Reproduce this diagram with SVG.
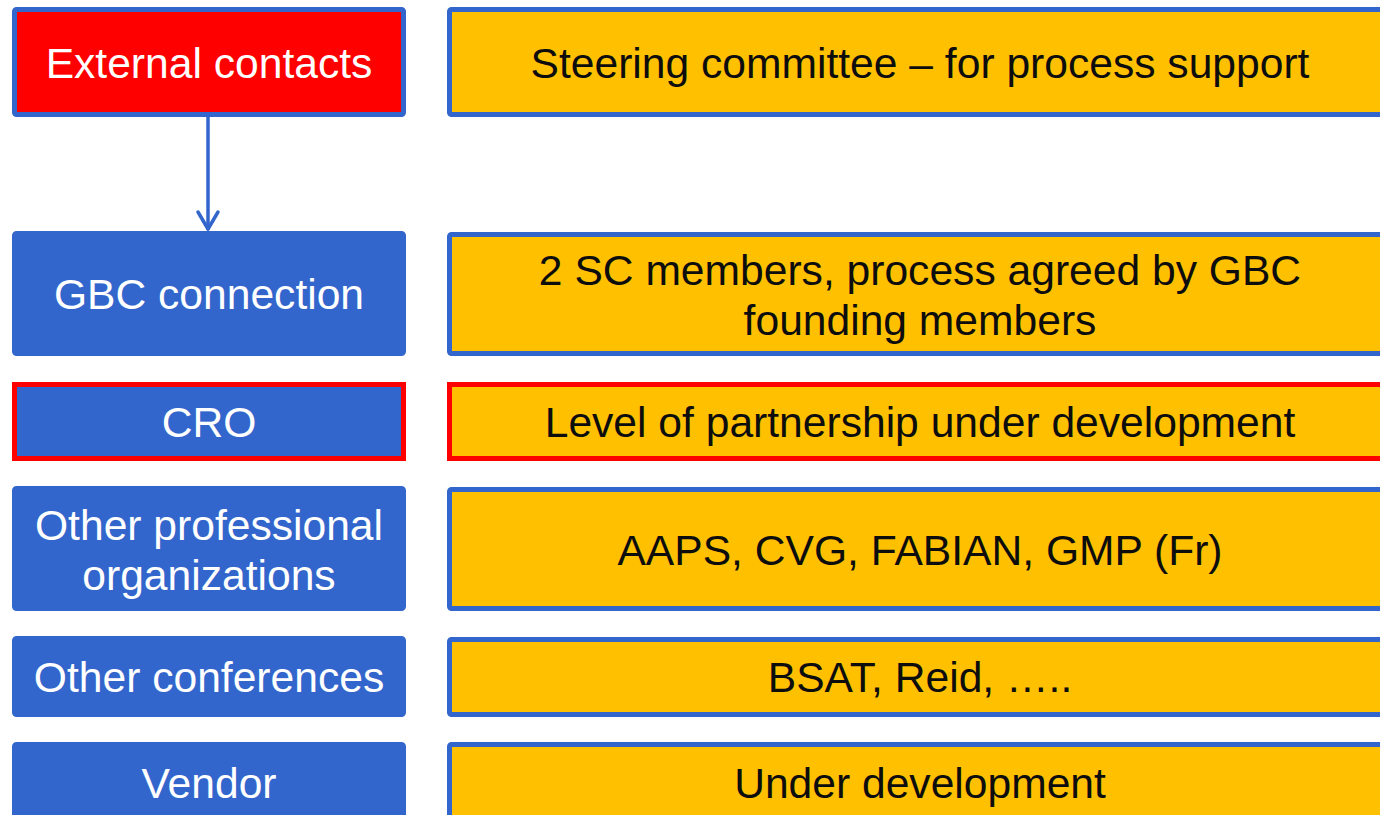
<svg xmlns="http://www.w3.org/2000/svg" width="1380" height="815" viewBox="0 0 1380 815">
<style>
.lb{fill:#3366CC;stroke:#3366CC;stroke-width:5}
.rb{fill:#FFC000;stroke:#3366CC;stroke-width:5}
.red{stroke:#FF0000}
.lt{font-family:"Liberation Sans",Arial,sans-serif;font-size:42.6px;fill:#FFFFFF;text-anchor:middle}
.rt{font-family:"Liberation Sans",Arial,sans-serif;font-size:42.6px;fill:#0D0D0D;text-anchor:middle}
</style>
<rect width="1380" height="815" fill="#FFFFFF"/>
<g id="external-contacts"><rect x="14.5" y="9.5" width="389" height="105" rx="2" class="lb" style="fill:#FF0000"/><text x="209" y="78" class="lt">External contacts</text></g>
<g id="steering"><rect x="449.5" y="9.5" width="945" height="105" rx="2" class="rb"/><text x="920" y="78" class="rt">Steering committee – for process support</text></g>
<g id="gbc"><rect x="14.5" y="233.5" width="389" height="120" rx="2" class="lb"/><text x="209" y="309" class="lt">GBC connection</text></g>
<g id="gbc-desc"><rect x="449.5" y="234.5" width="945" height="119" rx="2" class="rb"/><text x="920" y="285" class="rt">2 SC members, process agreed by GBC</text><text x="920" y="335" class="rt">founding members</text></g>
<g id="cro"><rect x="14.5" y="384.5" width="389" height="74" class="lb red"/><text x="209" y="437" class="lt">CRO</text></g>
<g id="cro-desc"><rect x="449.5" y="384.5" width="945" height="74" class="rb red"/><text x="920" y="437" class="rt">Level of partnership under development</text></g>
<g id="other-prof"><rect x="14.5" y="488.5" width="389" height="120" rx="2" class="lb"/><text x="209" y="540" class="lt">Other professional</text><text x="209" y="590" class="lt">organizations</text></g>
<g id="other-prof-desc"><rect x="449.5" y="489.5" width="945" height="119" rx="2" class="rb"/><text x="920" y="565" class="rt">AAPS, CVG, FABIAN, GMP (Fr)</text></g>
<g id="other-conf"><rect x="14.5" y="638.5" width="389" height="76" rx="2" class="lb"/><text x="209" y="692" class="lt">Other conferences</text></g>
<g id="other-conf-desc"><rect x="449.5" y="639.5" width="945" height="75" rx="2" class="rb"/><text x="920" y="692" class="rt">BSAT, Reid, …..</text></g>
<g id="vendor"><rect x="14.5" y="744.5" width="389" height="80" rx="2" class="lb"/><text x="209" y="798" class="lt">Vendor</text></g>
<g id="vendor-desc"><rect x="449.5" y="744.5" width="945" height="80" rx="2" class="rb"/><text x="920" y="798" class="rt">Under development</text></g>
<g id="connectors" fill="none" stroke="#3366CC" stroke-width="3.5" stroke-linecap="round" stroke-linejoin="round">
<line x1="208" y1="117" x2="208" y2="229"/>
<polyline points="198,212 208,229 218,212"/>
</g>
</svg>
